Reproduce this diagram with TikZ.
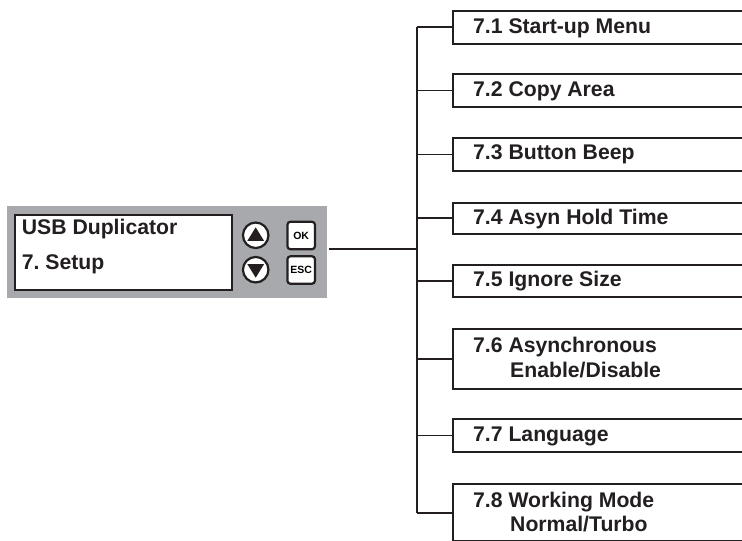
\documentclass[tikz,border=0pt]{standalone}
\usepackage{fontspec}
\setmainfont{Liberation Sans}
\usetikzlibrary{calc}
\frenchspacing
\definecolor{ink}{HTML}{231F20}
\definecolor{panelgray}{HTML}{A7A9AC}
\tikzset{
  menubox/.style={draw=ink, line width=1.8pt, anchor=north west, minimum width=320pt, inner sep=0pt},
  menutext/.style={anchor=base west, inner sep=0pt, font=\fontsize{21.2}{24.5}\selectfont\bfseries, text=ink, align=left},
  branch/.style={draw=ink, line width=1.6pt},
  btn/.style={draw=ink, line width=2.2pt, fill=white, rounded corners=3pt, minimum width=27.5pt, minimum height=27.5pt, inner sep=0pt, font=\fontsize{10.5}{11}\selectfont\bfseries},
  roundbtn/.style={circle, draw=ink, line width=2.2pt, fill=white, minimum size=25.5pt, inner sep=0pt},
}
\begin{document}
\begin{tikzpicture}[x=1pt,y=-1pt]
\useasboundingbox (0,0) rectangle (742,541);
\clip (0,0) rectangle (742,541);
% left panel
\node[fill=panelgray, anchor=north west, minimum width=320pt, minimum height=92pt, inner sep=0pt] (panel) at (7,205.3) {};
\node[draw=ink, line width=2.2pt, fill=white, anchor=north west, minimum width=217pt, minimum height=75.5pt, inner sep=0pt] (lcd) at (13.5,213.5) {};
\node[menutext] (l1) at (21.7,234.3) {USB Duplicator};
\node[menutext] (l2) at (21.7,269.3) {7. Setup};
\node[roundbtn] (up) at (255.7,235.3) {};
\node[roundbtn] (down) at (255.7,269.7) {};
\fill[ink] ($(up.center)+(0,-8)$) -- ($(up.center)+(8.3,5.5)$) -- ($(up.center)+(-8.3,5.5)$) -- cycle;
\fill[ink] ($(down.center)+(0,8)$) -- ($(down.center)+(8.3,-5.5)$) -- ($(down.center)+(-8.3,-5.5)$) -- cycle;
\node[btn] (ok) at (301.2,235.5) {OK};
\node[btn] (esc) at (301.2,270) {ESC};
% menu boxes
\node[menubox, minimum height=32.7pt] (b1) at (452,10) {};
\node[menubox, minimum height=32.4pt] (b2) at (452,73.3) {};
\node[menubox, minimum height=32.7pt] (b3) at (452,137.3) {};
\node[menubox, minimum height=31pt] (b4) at (452,201.7) {};
\node[menubox, minimum height=32pt] (b5) at (452,264) {};
\node[menubox, minimum height=60pt] (b6) at (452,328.3) {};
\node[menubox, minimum height=32.4pt] (b7) at (452,418.3) {};
\node[menubox, minimum height=57pt] (b8) at (452,483.3) {};
\node[menutext] (t1) at (473,33.3) {7.1 Start-up Menu};
\node[menutext] (t2) at (473,96.7) {7.2 Copy Area};
\node[menutext] (t3) at (473,159.6) {7.3 Button Beep};
\node[menutext] (t4) at (473,224) {7.4 Asyn Hold Time};
\node[menutext] (t5) at (473,286.7) {7.5 Ignore Size};
\node[menutext] (t6) at (473,377.3) {7.6 Asynchronous\\\hspace*{37pt}Enable/Disable};
\node[menutext] (t7) at (473,441.7) {7.7 Language};
\node[menutext] (t8) at (473,531.5) {7.8 Working Mode\\\hspace*{37pt}Normal/Turbo};
% connectors
\coordinate (joint) at (417,249);
\coordinate (start) at (329,249);
\draw[branch] (b1.west -| joint) -- (b8.west -| joint);
\draw[branch] (start) -- (joint);
\foreach \b in {b1,b2,b3,b4,b5,b6,b7,b8} {
  \draw[branch] (\b.west -| joint) -- (\b.west);
}
\end{tikzpicture}
\end{document}
